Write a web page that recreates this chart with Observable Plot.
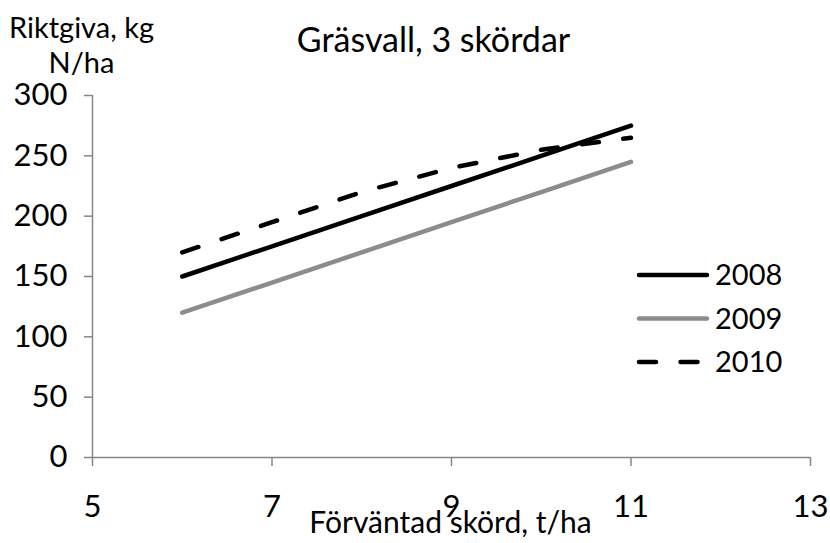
<!DOCTYPE html>
<html>
<head>
<meta charset="utf-8">
<script src="https://cdn.jsdelivr.net/npm/d3@7"></script>
<script src="https://cdn.jsdelivr.net/npm/@observablehq/plot@0.6"></script>
<style>
  html, body { margin: 0; padding: 0; background: white; }
</style>
</head>
<body>
<div id="chart"></div>
<script>
// Recommended nitrogen rate for grass ley (3 cuts) by expected yield
const years = ["2008", "2009", "2010"];
const expectedYield = [6, 7, 8, 9, 10, 11];        // t/ha
const rate2008 = [150, 175, 200, 225, 250, 275];   // kg N/ha
const rate2009 = [120, 145, 170, 195, 220, 245];
const rate2010 = [170, 195, 220, 240, 255, 265];
const xTicks = [5, 7, 9, 11, 13];
const yTicks = [0, 50, 100, 150, 200, 250, 300];

const styles = {
  "2008": {stroke: "#000000", dash: null},
  "2009": {stroke: "#8c8c8c", dash: null},
  "2010": {stroke: "#000000", dash: "17,24.5"}
};

const rates = {"2008": rate2008, "2009": rate2009, "2010": rate2010};
const rows = years.flatMap(yr => expectedYield.map((x, i) => ({year: yr, x, y: rates[yr][i]})));

const axisColor = "#868686";
const font = "Lato, 'Open Sans', sans-serif";

const chart = Plot.plot({
  width: 830,
  height: 543,
  marginLeft: 92,
  marginRight: 20,
  marginTop: 95,
  marginBottom: 86,
  style: {fontFamily: font, fontSize: "31px", color: "black", background: "white", overflow: "visible"},
  x: {domain: [5, 13]},
  y: {domain: [0, 300]},
  marks: [
    Plot.axisY({ticks: yTicks, tickSize: 8, tickPadding: 17, stroke: axisColor, strokeWidth: 1.5, label: null}),
    Plot.axisX({ticks: xTicks, tickSize: 9, tickPadding: 28, stroke: axisColor, strokeWidth: 1.5, label: null}),
    Plot.ruleX([5], {stroke: axisColor, strokeWidth: 1.5}),
    Plot.ruleY([0], {stroke: axisColor, strokeWidth: 1.5}),
    ...years.map(yr => Plot.line(rows.filter(d => d.year === yr), {
      x: "x", y: "y",
      stroke: styles[yr].stroke,
      strokeWidth: 4.5,
      strokeDasharray: styles[yr].dash,
      strokeLinecap: "round",
      strokeLinejoin: "round"
    })),
    Plot.text(["Gräsvall, 3 skördar"], {frameAnchor: "top", dx: -18, dy: -68, fontSize: 34, fill: "black"}),
    Plot.text(["Riktgiva, kg\nN/ha"], {frameAnchor: "top-left", textAnchor: "middle", dx: -11, dy: -82, lineHeight: 1.2, fontSize: 29, fill: "black"}),
    Plot.text(["Förväntad skörd, t/ha"], {frameAnchor: "bottom", dx: -1, dy: 75, fontSize: 30, fill: "black"})
  ]
});

// Legend drawn beside the lines, right-hand side of the plot area
const svg = d3.select(chart);
const legend = svg.append("g").attr("transform", "translate(639,275)");
years.forEach((yr, i) => {
  const g = legend.append("g").attr("transform", `translate(0,${i * 43.5})`);
  g.append("line")
    .attr("x1", 0).attr("x2", 68).attr("y1", 0).attr("y2", 0)
    .attr("stroke", styles[yr].stroke)
    .attr("stroke-width", 4.5)
    .attr("stroke-linecap", "round")
    .attr("stroke-dasharray", styles[yr].dash);
  g.append("text")
    .attr("x", 76).attr("y", 0).attr("dy", "0.35em")
    .attr("text-anchor", "start")
    .attr("font-family", font).attr("font-size", 29)
    .attr("fill", "black")
    .text(yr);
});

document.getElementById("chart").append(chart);
</script>
</body>
</html>
